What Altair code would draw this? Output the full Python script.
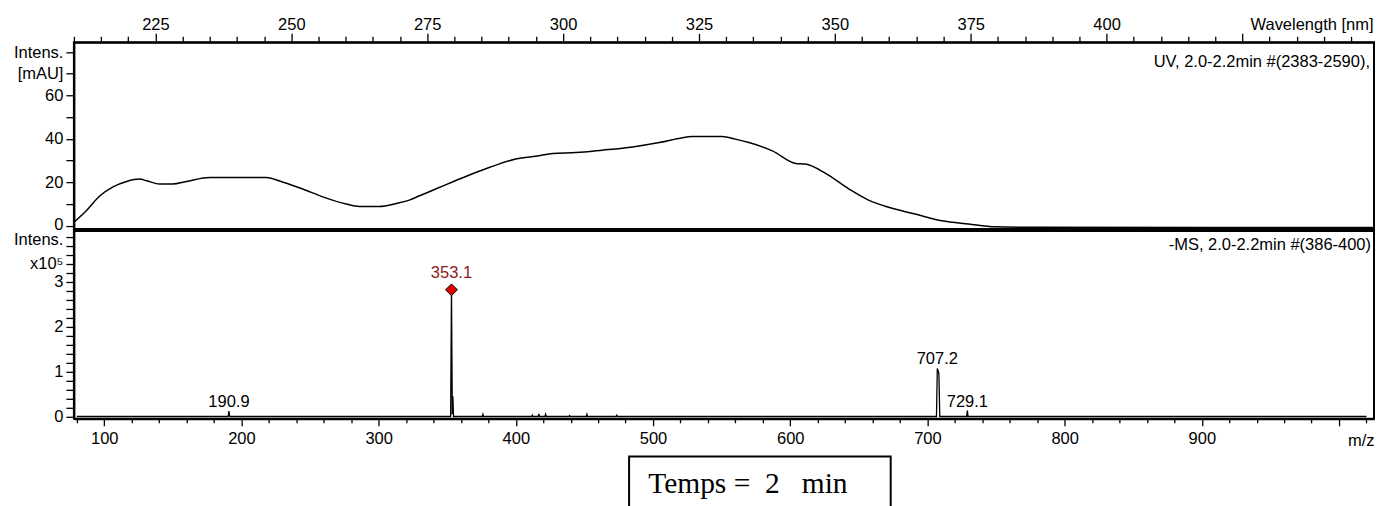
import altair as alt
import pandas as pd

# ---------------- data ----------------
uv_wavelength = [210, 212, 214.8, 217.2, 219.7, 222.1, 223.4, 225.8, 228.2, 230.7,
                 235, 240, 245.4, 248.5, 252.1, 255.8, 260.1, 262.5, 266.2, 269.5,
                 271.7, 273.6, 277.2, 282.1, 286.4, 291.3, 295.6, 298.1, 302.4, 307.2,
                 312.8, 317.7, 321.3, 323.8, 329.3, 331.7, 334.2, 338.5, 342.8, 344.6,
                 348.3, 352.6, 356.2, 359.9, 364.8, 369.7, 374.6, 379.5, 386.9, 449]
uv_intensity = [1.6, 6.2, 13.8, 17.9, 20.4, 21.5, 20.7, 19.2, 19.2, 20.4,
                22.2, 22.2, 22.2, 20.0, 16.9, 13.3, 10.0, 8.9, 8.9, 10.4,
                11.8, 13.8, 17.6, 22.7, 26.8, 30.7, 32.2, 33.3, 33.7, 34.8,
                36.3, 38.3, 40.2, 41.1, 41.1, 39.9, 38.3, 34.5, 28.7, 28.4,
                24.1, 16.9, 11.8, 8.5, 5.4, 2.3, 0.8, -0.5, -0.7, -0.8]

ms_mz = [80, 190.3, 190.9, 191.5, 352.5, 353.1, 353.7, 354.1, 354.6,
         375.5, 376.0, 376.5, 411.5, 412.0, 412.5, 416.3, 416.8, 417.3,
         421.2, 421.7, 422.2, 438.7, 439.2, 439.7, 451.3, 451.8, 452.3,
         473.1, 473.6, 474.1, 706.6, 707.2, 708.2, 708.4, 709.0, 728.6, 729.1, 729.6, 1020]
ms_intensity = [0, 0, 0.12, 0, 0, 2.82, 0.05, 0.45, 0,
                0, 0.05, 0, 0, 0.03, 0, 0, 0.06, 0,
                0, 0.05, 0, 0, 0.02, 0, 0, 0.05, 0,
                0, 0.03, 0, 0, 1.07, 0.98, 0.9, 0, 0, 0.13, 0, 0]

peak_mz = [190.9, 707.2, 729.1]
peak_intensity = [0.12, 1.07, 0.13]
peak_label = ["190.9", "707.2", "729.1"]

base_mz = [353.1]
base_intensity = [2.82]
base_label = ["353.1"]

uv_x_ticks = list(range(210, 450, 5))
ms_x_ticks = list(range(80, 1021, 20))
uv_y_ticks = list(range(0, 81, 10))
ms_y_ticks = [round(i * 0.2, 1) for i in range(21)]

uv_title = "UV, 2.0-2.2min #(2383-2590),"
ms_title = "-MS, 2.0-2.2min #(386-400)"
box_text = "Temps =\u00a0\u00a02\u00a0\u00a0\u00a0min"

FONT = "Liberation Sans"
FS = 16.5
W = 1302
H1 = 187
H2 = 188

uv_df = pd.DataFrame({"wl": uv_wavelength, "I": uv_intensity})
ms_df = pd.DataFrame({"mz": ms_mz, "I": ms_intensity})
peaks_df = pd.DataFrame({"mz": peak_mz, "I": peak_intensity, "lab": peak_label})
base_df = pd.DataFrame({"mz": base_mz, "I": base_intensity, "lab": base_label})

common_axis = dict(grid=False, domainColor="black", domainWidth=2, tickColor="black",
                   tickWidth=1.3, labelColor="black", labelFont=FONT, labelFontSize=FS,
                   labelOverlap=False, labelFlush=False, labelBound=False)

# ---------------- top panel (UV) ----------------
uv_x = alt.X("wl:Q", scale=alt.Scale(domain=[210, 449.2], nice=False, zero=False),
             axis=alt.Axis(orient="top", values=uv_x_ticks, format="d",
                           labelExpr="(datum.value % 25 === 0 && datum.value <= 400) ? datum.label : ''",
                           tickSize={"condition": {"test": "datum.value % 25 === 0", "value": 9}, "value": 6},
                           labelPadding=1,
                           title="Wavelength [nm]", titleX=1301, titleY=-13, titleAlign="right",
                           titleBaseline="alphabetic", titleAngle=0, titleFont=FONT,
                           titleFontSize=FS, titleFontWeight="normal", titleColor="black",
                           **common_axis))
uv_y = alt.Y("I:Q", scale=alt.Scale(domain=[-1.52, 84.46], nice=False, zero=False),
             axis=alt.Axis(values=uv_y_ticks, tickSize=8, labelPadding=3, title=None,
                           labelExpr="datum.value == 80 ? 'Intens.' : (datum.value == 70 ? '[mAU]' : (datum.value % 20 === 0 ? datum.label : ''))",
                           labelOffset={"condition": {"test": "datum.value == 0", "value": -1.5}, "value": 0},
                           **common_axis))

uv_line = alt.Chart(uv_df).mark_line(color="black", strokeWidth=1.5, interpolate="monotone").encode(
    x=uv_x, y=uv_y)
uv_text = alt.Chart(pd.DataFrame({"t": [uv_title]})).mark_text(
    align="right", baseline="alphabetic", font=FONT, fontSize=FS, color="black").encode(
    x=alt.value(1298), y=alt.value(24.7), text="t:N")

top = alt.layer(uv_line, uv_text).properties(width=W, height=H1)

# ---------------- bottom panel (MS) ----------------
ms_x = alt.X("mz:Q", scale=alt.Scale(domain=[77.9, 1025.5], nice=False, zero=False),
             axis=alt.Axis(orient="bottom", values=ms_x_ticks,
                           labelExpr="(datum.value % 100 === 0 && datum.value <= 900) ? format(datum.value, 'd') : ''",
                           tickSize={"condition": {"test": "datum.value % 100 === 0", "value": 7}, "value": 4},
                           labelPadding=5,
                           title="m/z", titleX=1302, titleY=27, titleAlign="right",
                           titleBaseline="alphabetic", titleAngle=0, titleFont=FONT,
                           titleFontSize=FS, titleFontWeight="normal", titleColor="black",
                           **common_axis))
ms_y = alt.Y("I:Q", scale=alt.Scale(domain=[-0.051, 4.127], nice=False, zero=False),
             axis=alt.Axis(values=ms_y_ticks, tickSize=8, labelPadding=3, title=None,
                           labelExpr="datum.value == 4 ? 'Intens.' : (abs(datum.value - 3.4) < 0.01 ? 'x10\u2075' : (abs(datum.value - round(datum.value)) < 0.01 ? format(datum.value, 'd') : ''))",
                           labelOffset={"condition": {"test": "datum.value == 4", "value": 2.5}, "value": 0},
                           **common_axis))

ms_line = alt.Chart(ms_df).mark_line(color="black", strokeWidth=1.3).encode(x=ms_x, y=ms_y)
peak_text = alt.Chart(peaks_df).mark_text(
    baseline="alphabetic", font=FONT, fontSize=FS, color="black", dy=-4).encode(
    x=ms_x, y=ms_y, text="lab:N")
base_point = alt.Chart(base_df).mark_point(
    shape="diamond", filled=True, fill="#e30000", stroke="black", strokeWidth=1,
    size=140, opacity=1).encode(x=ms_x, y=ms_y)
base_text = alt.Chart(base_df).mark_text(
    baseline="alphabetic", font=FONT, fontSize=FS, color="#8b1a1a", dy=-12).encode(
    x=ms_x, y=ms_y, text="lab:N")
ms_text = alt.Chart(pd.DataFrame({"t": [ms_title]})).mark_text(
    align="right", baseline="alphabetic", font=FONT, fontSize=FS, color="black").encode(
    x=alt.value(1299), y=alt.value(18.7), text="t:N")
box = alt.Chart(pd.DataFrame({"t": [box_text]})).mark_rect(
    fill="white", stroke="black", strokeWidth=2).encode(
    x=alt.value(556), x2=alt.value(818), y=alt.value(225.7), y2=alt.value(300))
box_label = alt.Chart(pd.DataFrame({"t": [box_text]})).mark_text(
    align="center", baseline="alphabetic", font="Liberation Serif", fontSize=29.5, color="black").encode(
    x=alt.value(675), y=alt.value(262.5), text="t:N")

bottom = alt.layer(ms_line, base_point, base_text, peak_text, ms_text, box, box_label).properties(
    width=W, height=H2)

chart = alt.vconcat(top, bottom, spacing=2, bounds="flush").properties(
    padding={"left": 4, "top": 7, "right": 0, "bottom": 0}, background="white"
).configure_view(stroke="black", strokeWidth=2)

chart.save("out.html", embed_options={"renderer": "svg", "actions": False})
